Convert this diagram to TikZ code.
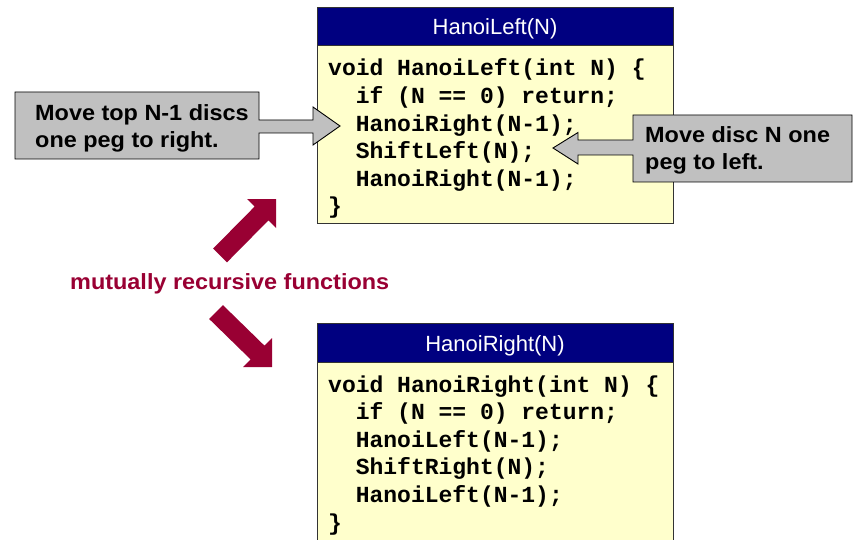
\documentclass[tikz,border=0pt]{standalone}
\usepackage{fontspec}
\setmainfont{Liberation Sans}
\newfontfamily\codefont{Liberation Mono}
\newfontfamily\callfont{Liberation Sans}[FakeStretch=1.065]
\definecolor{hdrblue}{HTML}{000080}
\definecolor{codebg}{HTML}{FFFFCC}
\definecolor{callgray}{HTML}{C0C0C0}
\definecolor{maroonc}{HTML}{990033}
\begin{document}
\begin{tikzpicture}[x=1pt,y=-1pt,
  codeline/.style={anchor=base west,inner sep=0pt,font=\codefont\bfseries\fontsize{23}{27}\selectfont},
  hdrtext/.style={anchor=base,inner sep=0pt,text=white,font=\fontsize{22}{26}\selectfont},
  calltext/.style={anchor=base west,inner sep=0pt,font=\callfont\bfseries\fontsize{22}{26}\selectfont},
  hdrbox/.style={fill=hdrblue,draw=black!80,line width=0.8pt},
  bodybox/.style={fill=codebg,draw=black!80,line width=0.8pt},
  callout/.style={fill=callgray,draw=black,line width=0.9pt,line join=miter},
  bigarrow/.style={fill=maroonc,draw=none}]
\clip (0,0) rectangle (856,540);
\fill[white] (0,0) rectangle (856,540);

% ---- top box: HanoiLeft ----
\draw[bodybox] (317,45) rectangle (673,223);
\draw[hdrbox] (317,7) rectangle (673,45);
\node[hdrtext] (hl) at (495,35) {HanoiLeft(N)};
\node[codeline] (l1) at (328,76) {void HanoiLeft(int N) \{};
\node[codeline] (l2) at (328,103.6) {\phantom{xx}if (N == 0) return;};
\node[codeline] (l3) at (328,131.2) {\phantom{xx}HanoiRight(N-1);};
\node[codeline] (l4) at (328,158.8) {\phantom{xx}ShiftLeft(N);};
\node[codeline] (l5) at (328,186.4) {\phantom{xx}HanoiRight(N-1);};
\node[codeline] (l6) at (328,214) {\}};

% ---- bottom box: HanoiRight ----
\draw[bodybox] (317,362) rectangle (673,560);
\draw[hdrbox] (317,323) rectangle (673,362);
\node[hdrtext] (hr) at (495,351) {HanoiRight(N)};
\node[codeline] (r1) at (328,392) {void HanoiRight(int N) \{};
\node[codeline] (r2) at (328,419.6) {\phantom{xx}if (N == 0) return;};
\node[codeline] (r3) at (328,447.2) {\phantom{xx}HanoiLeft(N-1);};
\node[codeline] (r4) at (328,474.8) {\phantom{xx}ShiftRight(N);};
\node[codeline] (r5) at (328,502.4) {\phantom{xx}HanoiLeft(N-1);};
\node[codeline] (r6) at (328,530) {\}};

% ---- left callout ----
\draw[callout] (15,92) -- (259,92) -- (259,120) -- (313,120) -- (313,107)
  -- (340,126) -- (313,145) -- (313,133) -- (259,133) -- (259,159) -- (15,159) -- cycle;
\node[calltext] (c1a) at (35,121) {Move top N-1 discs};
\node[calltext] (c1b) at (35,148) {one peg to right.};

% ---- right callout ----
\draw[callout] (633,115) -- (852,115) -- (852,182) -- (633,182) -- (633,155)
  -- (578,155) -- (578,164) -- (553,148) -- (578,132.5) -- (578,140) -- (633,140) -- cycle;
\node[calltext] (c2a) at (645,143) {Move disc N one};
\node[calltext] (c2b) at (645,170) {peg to left.};

% ---- mutual recursion arrows ----
\fill[bigarrow] (213.1,248.6) -- (254.6,206.6) -- (247,199) -- (276,199)
  -- (276,228) -- (268.4,220.4) -- (226.9,262.4) -- cycle;
\node[calltext,text=maroonc] (mr) at (70,289) {mutually recursive functions};
\fill[bigarrow] (209.1,318.9) -- (250.6,359.4) -- (243,367) -- (272,367)
  -- (272,338) -- (264.4,345.6) -- (222.9,305.1) -- cycle;
\end{tikzpicture}
\end{document}
